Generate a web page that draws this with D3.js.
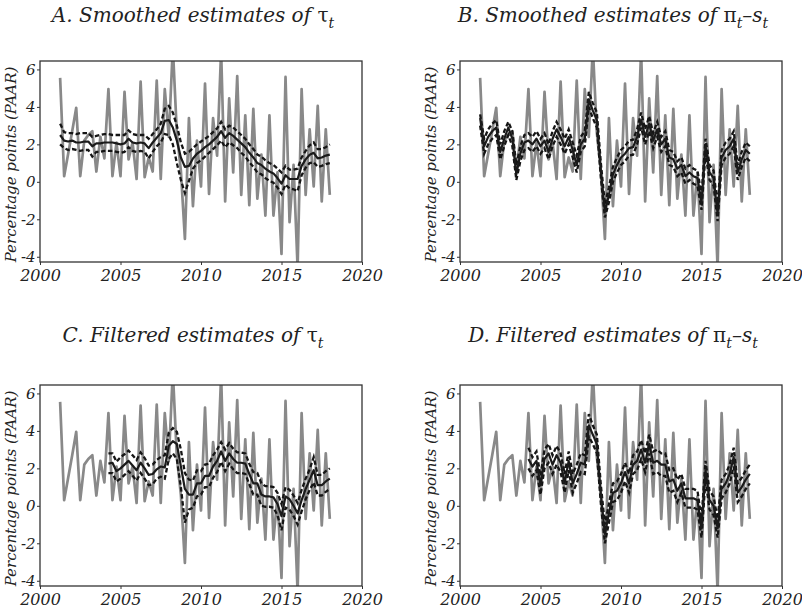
<!DOCTYPE html>
<html>
<head>
<meta charset="utf-8">
<script src="https://cdn.jsdelivr.net/npm/d3@7"></script>
<style>
  body { margin: 0; background: #fff; }
  svg { display: block; }
  text { font-family: "DejaVu Serif", serif; font-style: italic; fill: #222; }
</style>
</head>
<body>
<svg id="chart" width="802" height="611"></svg>
<script>
// quarterly dates, first obs 2001Q2 .. 2018Q1
const quarters = d3.range(68).map(k => 2001.25 + 0.25 * k)
const filtStart = 12 // filtered estimates begin 2004.25

// observed inflation (grey)
const inflation = [5.55, 0.3, 1.5, 2.7, 3.95, 0.3, 2.2, 2.5, 2.7, 0.55, 2.4, 1.25,
  4.95, 0.3, 2.1, 0.3, 4.8, 1.2, 2.1, 0.15, 5.35, 0.25, 1.3, 0.55,
  5.4, 0.15, 4.95, 2.4, 7.2, 2.6, 0.6, -3.05, 3.4, -1.3, 2.2, -0.25,
  5.25, -0.65, 3.4, 1.4, 7.0, -1.05, 4.45, 0.5, 5.65, -0.7, 3.55, -1.25,
  3.9, -0.9, 1.45, -1.8, 3.55, -1.8, 0.5, -3.85, 5.6, -2.15, 0.9, -4.6,
  4.95, -0.7, 2.8, -0.25, 4.05, -1.05, 2.8, -0.7]

// A. smoothed tau
const tauSmooth = [2.5, 2.2, 2.15, 2.2, 2.1, 2.1, 2.15, 2.15, 1.9, 2.05, 2.05, 2.1,
  2.1, 2.1, 2.05, 2.0, 2.05, 2.3, 2.1, 2.05, 2.1, 2.05, 1.8, 2.1,
  2.35, 2.6, 3.25, 3.3, 2.9, 2.2, 1.3, 0.8, 0.85, 1.25, 1.5, 1.65,
  1.85, 2.0, 2.2, 2.4, 2.7, 2.35, 2.6, 2.45, 2.25, 2.05, 1.85, 1.55,
  1.3, 1.0, 0.9, 0.7, 0.55, 0.45, 0.2, -0.1, 0.35, 0.15, 0.15, 0.15,
  0.85, 1.2, 1.45, 1.55, 1.25, 1.3, 1.4, 1.45]
const tauSmoothHi = [3.1, 2.65, 2.6, 2.6, 2.55, 2.6, 2.6, 2.6, 2.4, 2.45, 2.5, 2.55,
  2.55, 2.5, 2.5, 2.5, 2.5, 2.75, 2.55, 2.5, 2.5, 2.5, 2.3, 2.55,
  2.8, 3.1, 3.9, 4.05, 3.7, 3.0, 2.1, 1.5, 1.6, 1.8, 2.0, 2.15,
  2.3, 2.45, 2.65, 2.85, 3.2, 2.8, 3.0, 2.9, 2.7, 2.5, 2.3, 2.0,
  1.75, 1.45, 1.35, 1.15, 1.0, 0.9, 0.7, 0.5, 0.85, 0.65, 0.65, 0.7,
  1.3, 1.65, 1.95, 2.1, 1.75, 1.75, 1.85, 2.0]
const tauSmoothLo = [2.0, 1.8, 1.7, 1.75, 1.7, 1.65, 1.7, 1.7, 1.35, 1.6, 1.6, 1.65,
  1.65, 1.65, 1.6, 1.55, 1.6, 1.85, 1.65, 1.6, 1.65, 1.6, 1.25, 1.6,
  1.9, 2.1, 2.55, 2.5, 2.0, 1.0, 0.1, -0.6, 0.05, 0.7, 1.0, 1.15,
  1.35, 1.55, 1.75, 1.95, 2.2, 1.85, 2.1, 1.95, 1.8, 1.55, 1.35, 1.05,
  0.8, 0.5, 0.4, 0.2, 0.05, -0.05, -0.3, -0.65, -0.15, -0.35, -0.4, -0.5,
  0.35, 0.75, 1.0, 1.05, 0.8, 0.85, 0.95, 1.0]

// B. smoothed pi - s
const gapSmooth = [3.4, 1.9, 2.4, 2.7, 2.9, 1.6, 2.3, 2.9, 2.3, 0.4, 1.5, 2.1,
  2.2, 2.0, 2.3, 1.9, 2.2, 1.6, 2.3, 2.8, 2.4, 1.9, 2.4, 1.7,
  0.9, 2.0, 2.3, 4.4, 3.8, 3.3, 0.6, -1.6, -0.7, 0.4, 0.9, 1.3,
  1.5, 1.8, 1.85, 2.4, 3.3, 2.4, 3.1, 2.2, 2.8, 2.0, 2.3, 1.3,
  1.2, 0.7, 0.9, 0.3, 0.5, 0.3, 0.2, -1.1, 1.9, 0.5, 0.2, -1.7,
  1.3, 1.7, 1.9, 2.3, 0.5, 1.2, 1.7, 1.5]
const gapSmoothHi = [3.6, 2.3, 2.8, 3.1, 3.3, 2.0, 2.7, 3.2, 2.7, 0.9, 1.9, 2.5,
  2.6, 2.4, 2.7, 2.3, 2.6, 2.0, 2.7, 3.2, 2.8, 2.3, 2.8, 2.1,
  1.4, 2.4, 2.7, 4.8, 4.2, 3.7, 1.0, -1.2, -0.3, 0.8, 1.3, 1.7,
  1.9, 2.2, 2.25, 2.8, 3.7, 2.8, 3.5, 2.6, 3.2, 2.4, 2.7, 1.7,
  1.6, 1.1, 1.3, 0.7, 0.9, 0.7, 0.6, -0.7, 2.3, 0.9, 0.6, -1.3,
  1.7, 2.1, 2.3, 2.7, 0.9, 1.6, 2.1, 1.9]
const gapSmoothLo = [3.0, 1.5, 2.0, 2.3, 2.5, 1.2, 1.9, 2.5, 1.9, 0.1, 1.1, 1.7,
  1.8, 1.6, 1.9, 1.5, 1.8, 1.2, 1.9, 2.4, 2.0, 1.5, 2.0, 1.3,
  0.5, 1.6, 1.9, 4.0, 3.4, 2.9, 0.2, -1.9, -1.1, 0.0, 0.5, 0.9,
  1.1, 1.4, 1.45, 2.0, 2.9, 2.0, 2.7, 1.8, 2.4, 1.6, 1.9, 0.9,
  0.8, 0.3, 0.5, -0.1, 0.1, -0.1, -0.2, -1.5, 1.5, 0.1, -0.2, -2.1,
  0.9, 1.3, 1.5, 1.9, 0.1, 0.8, 1.3, 1.1]

// C. filtered tau (from 2004.25)
const tauFilt = [2.25, 2.3, 1.85, 2.0, 2.2, 2.4, 2.15, 1.9, 2.3, 2.0, 1.65, 1.7,
  1.95, 2.1, 2.05, 3.2, 3.45, 3.3, 2.1, 0.9, 0.6, 0.6, 1.2, 1.2,
  1.6, 1.6, 2.1, 2.4, 2.9, 2.4, 2.8, 2.5, 2.3, 2.3, 2.25, 1.7,
  1.2, 1.2, 0.6, 0.5, 0.5, 0.45, 0.1, -0.55, 0.5, 0.35, 0.0, -0.4,
  0.3, 0.9, 1.4, 1.9, 1.1, 1.1, 1.3, 1.45]
const tauFiltHi = [2.8, 2.8, 2.35, 2.6, 2.75, 2.95, 2.7, 2.45, 2.85, 2.55, 2.15, 2.2,
  2.45, 2.6, 2.7, 3.9, 4.15, 3.95, 3.0, 1.75, 1.4, 1.35, 1.9, 1.85,
  2.2, 2.25, 2.7, 3.0, 3.4, 3.0, 3.35, 3.05, 2.85, 2.85, 2.8, 2.25,
  1.8, 1.75, 1.2, 1.05, 1.05, 1.0, 0.7, 0.1, 1.0, 0.85, 0.55, 0.15,
  0.85, 1.45, 1.95, 2.6, 1.65, 1.65, 1.85, 2.0]
const tauFiltLo = [1.75, 1.75, 1.3, 1.45, 1.65, 1.85, 1.6, 1.35, 1.75, 1.45, 1.1, 1.15,
  1.45, 1.55, 1.45, 2.5, 2.8, 2.5, 1.0, -0.9, -0.2, -0.1, 0.5, 0.6,
  1.0, 1.0, 1.5, 1.8, 2.35, 1.85, 2.25, 1.95, 1.75, 1.75, 1.7, 1.15,
  0.6, 0.6, 0.0, -0.05, -0.05, -0.1, -0.5, -1.3, -0.1, -0.2, -0.55, -1.0,
  -0.3, 0.35, 0.85, 1.25, 0.55, 0.55, 0.75, 0.9]

// D. filtered pi - s (from 2004.25)
const gapFilt = [2.5, 2.1, 2.4, 1.1, 2.5, 2.8, 2.2, 2.7, 2.3, 1.2, 2.4, 1.2,
  1.7, 2.3, 2.2, 4.3, 3.8, 3.3, 0.6, -1.5, -0.4, 0.7, 0.8, 1.2,
  1.8, 1.2, 2.2, 2.4, 3.0, 2.3, 3.3, 2.3, 2.4, 2.2, 2.2, 1.3,
  1.4, 0.8, 1.2, 0.4, 0.4, 0.4, 0.3, -1.2, 1.9, 0.3, 0.0, -1.2,
  0.9, 1.2, 1.7, 2.6, 0.7, 1.0, 1.4, 1.7]
const gapFiltHi = [3.1, 2.6, 2.9, 1.6, 3.0, 3.3, 2.7, 3.2, 2.8, 1.7, 2.9, 1.7,
  2.2, 2.8, 2.7, 4.9, 4.3, 3.8, 1.1, -1.0, 0.1, 1.2, 1.3, 1.7,
  2.3, 1.7, 2.7, 2.9, 3.5, 2.8, 3.8, 2.9, 3.0, 2.8, 2.8, 1.9,
  2.0, 1.4, 1.7, 0.9, 0.9, 0.9, 0.8, -0.7, 2.4, 0.8, 0.5, -0.7,
  1.4, 1.7, 2.2, 3.1, 1.2, 1.5, 1.9, 2.2]
const gapFiltLo = [2.0, 1.6, 1.9, 0.6, 2.0, 2.3, 1.7, 2.2, 1.8, 0.7, 1.9, 0.7,
  1.2, 1.8, 1.7, 3.7, 3.3, 2.8, 0.1, -2.0, -0.9, 0.2, 0.3, 0.7,
  1.3, 0.7, 1.7, 1.9, 2.5, 1.8, 2.8, 1.7, 1.8, 1.6, 1.6, 0.7,
  0.8, 0.2, 0.7, -0.1, -0.1, -0.1, -0.2, -1.7, 1.4, -0.2, -0.5, -1.7,
  0.4, 0.7, 1.2, 2.1, 0.2, 0.5, 0.9, 1.2]

const xTicks = [2000, 2005, 2010, 2015, 2020]
const yTicks = [-4, -2, 0, 2, 4, 6]

const panels = [
  { x: 40, y: 61, titleY: 22, letter: 'A.', kind: 'Smoothed', pi: false,
    est: tauSmooth, hi: tauSmoothHi, lo: tauSmoothLo, start: 0 },
  { x: 460, y: 61, titleY: 22, letter: 'B.', kind: 'Smoothed', pi: true,
    est: gapSmooth, hi: gapSmoothHi, lo: gapSmoothLo, start: 0 },
  { x: 40, y: 385, titleY: 342, letter: 'C.', kind: 'Filtered', pi: false,
    est: tauFilt, hi: tauFiltHi, lo: tauFiltLo, start: filtStart },
  { x: 460, y: 385, titleY: 342, letter: 'D.', kind: 'Filtered', pi: true,
    est: gapFilt, hi: gapFiltHi, lo: gapFiltLo, start: filtStart }
]

const W = 322
const H = 201
const svg = d3.select('#chart')

const x = d3.scaleLinear().domain([2000, 2020]).range([0, W])
const y = d3.scaleLinear().domain([-4.28, 6.45]).range([H, 0])

const line = d3.line().x(d => x(d[0])).y(d => y(d[1]))
const zip = (vals, start) => vals.map((v, i) => [quarters[start + i], v]).filter(d => d[0] !== undefined)

panels.forEach((p, idx) => {
  const g = svg.append('g').attr('transform', `translate(${p.x},${p.y})`)

  // title, greek letters upright like the original
  const t = svg.append('text')
    .attr('x', p.x + W / 2 - 8)
    .attr('y', p.titleY)
    .attr('text-anchor', 'middle')
    .style('font-size', '20px')
  t.append('tspan').text(`${p.letter} ${p.kind} estimates of `)
  t.append('tspan').style('font-style', 'normal').text(p.pi ? 'π' : 'τ')
  t.append('tspan').attr('dy', 6).style('font-size', '14px').text('t')
  if (p.pi) {
    t.append('tspan').attr('dy', -6).text('–s')
    t.append('tspan').attr('dy', 6).style('font-size', '14px').text('t')
  }

  const clipId = 'clip' + idx
  g.append('clipPath').attr('id', clipId)
    .append('rect').attr('width', W).attr('height', H)

  const plot = g.append('g').attr('clip-path', `url(#${clipId})`)

  plot.append('path')
    .datum(zip(inflation, 0))
    .attr('d', line)
    .attr('fill', 'none')
    .attr('stroke', '#898989')
    .attr('stroke-width', 2.7)
    .attr('stroke-linejoin', 'round')

  ;[p.lo, p.hi].forEach(band => {
    plot.append('path')
      .datum(zip(band, p.start))
      .attr('d', line)
      .attr('fill', 'none')
      .attr('stroke', '#151515')
      .attr('stroke-width', 2.3)
      .attr('stroke-dasharray', '4.5,2.5')
  })

  plot.append('path')
    .datum(zip(p.est, p.start))
    .attr('d', line)
    .attr('fill', 'none')
    .attr('stroke', '#1a1a1a')
    .attr('stroke-width', 2.2)
    .attr('stroke-linejoin', 'round')

  // axes
  const yAxis = g.append('g')
    .call(d3.axisLeft(y).tickValues(yTicks).tickSize(3).tickPadding(1.5).tickFormat(d => String(d)))
  const xAxis = g.append('g')
    .attr('transform', `translate(0,${H})`)
    .call(d3.axisBottom(x).tickValues(xTicks).tickSize(3).tickPadding(5).tickFormat(d3.format('d')))
  ;[yAxis, xAxis].forEach(a => {
    a.select('.domain').remove()
    a.selectAll('line').attr('stroke', '#333')
    a.selectAll('text').attr('fill', '#222')
      .style('font-family', '"DejaVu Serif", serif').style('font-style', 'italic')
  })
  yAxis.selectAll('text').style('font-size', '15px')
  xAxis.selectAll('text').style('font-size', '16px')

  g.append('rect')
    .attr('width', W).attr('height', H)
    .attr('fill', 'none')
    .attr('stroke', '#333')
    .attr('stroke-width', 1.3)

  g.append('text')
    .attr('transform', `translate(-24,${H / 2 + 3}) rotate(-90)`)
    .attr('text-anchor', 'middle')
    .style('font-size', '15px')
    .text('Percentage points (PAAR)')
})
</script>
</body>
</html>
